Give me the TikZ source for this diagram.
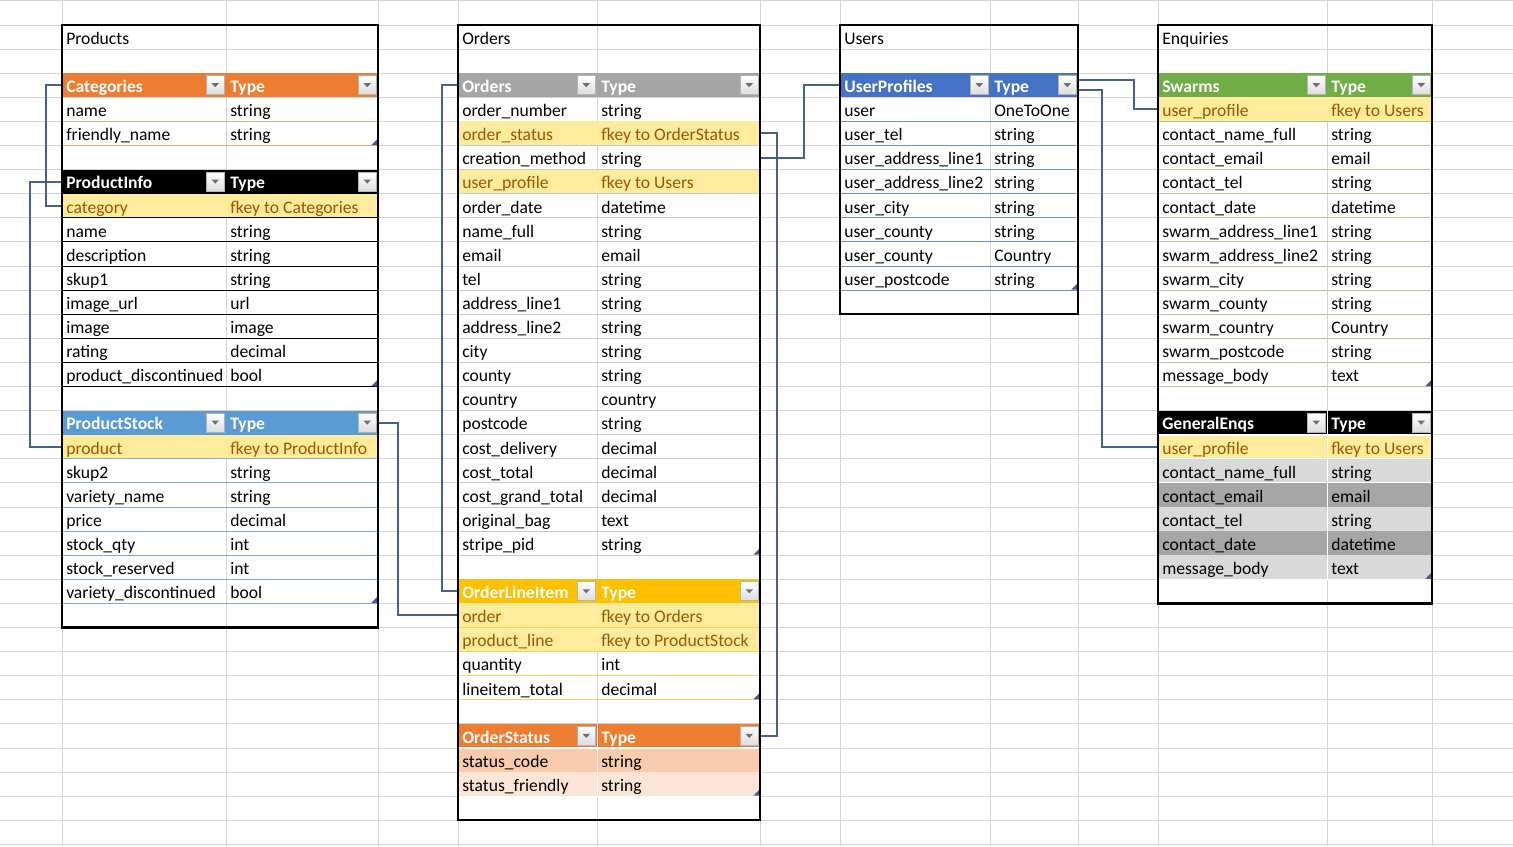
\documentclass[tikz,border=0pt]{standalone}
\usepackage{fontspec}
\setmainfont{Carlito}

% sheet colours
\definecolor{grid}{HTML}{D4D4D4}
\definecolor{hl}{HTML}{FFEB9C}
\definecolor{hltext}{HTML}{9C5700}
\definecolor{conncol}{HTML}{44628C}
\definecolor{resizecol}{HTML}{4A55A8}
\definecolor{btnedge}{HTML}{B4B4B4}
\definecolor{btnlow}{HTML}{DCDCDC}
\definecolor{arrowgray}{HTML}{6E6E6E}
% table colours
\definecolor{accOrange}{HTML}{ED7D31}
\definecolor{catline}{HTML}{F2A772}
\definecolor{psHead}{HTML}{5B9BD5}
\definecolor{psline}{HTML}{7FAEDD}
\definecolor{ordHead}{HTML}{A5A5A5}
\definecolor{ordline}{HTML}{C9C9C9}
\definecolor{oliHead}{HTML}{FFC000}
\definecolor{oliline}{HTML}{FFD34D}
\definecolor{upHead}{HTML}{4472C4}
\definecolor{upline}{HTML}{6C8ED0}
\definecolor{swHead}{HTML}{70AD47}
\definecolor{swline}{HTML}{A9D08E}
\definecolor{osRowA}{HTML}{F8CBAD}
\definecolor{osRowB}{HTML}{FCE4D6}
\definecolor{geLight}{HTML}{D9D9D9}
\definecolor{geDark}{HTML}{A6A6A6}

\tikzset{
  cell/.style={anchor=west, inner xsep=3pt, inner ysep=0pt, minimum height=18.075pt,
    text height=10.9pt, text depth=0pt, font=\fontsize{13.2}{15}\selectfont},
  headcell/.style={cell, text=white, font=\fontsize{13.2}{15}\selectfont\bfseries},
  gridline/.style={draw=grid, line width=0.75pt},
  rule/.style={line width=0.75pt},
  frame/.style={draw=black, line width=1.7pt},
  btn/.style={draw=btnedge, line width=0.6pt, top color=white, bottom color=btnlow},
  btnarrow/.style={fill=arrowgray},
  conn/.style={draw=conncol, line width=1.5pt},
}

% dropdown button at the right end of a header cell: #1 cell right x, #2 row top y
\newcommand{\dropbtn}[2]{%
  \draw[btn] (#1-19.5,#2+2.5) rectangle (#1-2,#2+21.5);
  \fill[btnarrow] (#1-14.5,#2+10) -- (#1-7,#2+10) -- (#1-10.75,#2+14) -- cycle;
}

% sheet title: #1 name, #2 left, #3 mid, #4 text
\newcommand{\ttitle}[4]{%
  \pgfmathsetmacro\wa{(#3-#2-8)*0.75}%
  \node[cell] (#1) at (#2,37.05) {\makebox[\wa pt][l]{#4}};
}

% table header: #1 id, #2 left, #3 mid, #4 right, #5 row, #6 fill, #7 title
\newcommand{\thead}[7]{%
  \pgfmathsetmacro\yt{25+24.1*(#5)}%
  \pgfmathsetmacro\yb{\yt+24.1}%
  \pgfmathsetmacro\ym{\yt+12.05}%
  \pgfmathsetmacro\wa{(#3-#2-8)*0.75}%
  \pgfmathsetmacro\wb{(#4-#3-8)*0.75}%
  \fill[#6] (#2,\yt) rectangle (#4,\yb);
  \node[headcell] (#1-h) at (#2,\ym) {\makebox[\wa pt][l]{#7}};
  \node[headcell] (#1-ht) at (#3,\ym) {\makebox[\wb pt][l]{Type}};
  \dropbtn{#3}{\yt}\dropbtn{#4}{\yt}%
}

% table row: #1 name, #2 left, #3 mid, #4 right, #5 row, #6 field, #7 type, #8 fill, #9 text colour
\newcommand{\trow}[9]{%
  \pgfmathsetmacro\yt{25+24.1*(#5)}%
  \pgfmathsetmacro\yb{\yt+24.1}%
  \pgfmathsetmacro\ym{\yt+12.05}%
  \pgfmathsetmacro\wa{(#3-#2-8)*0.75}%
  \pgfmathsetmacro\wb{(#4-#3-8)*0.75}%
  \path[fill=#8] (#2,\yt) rectangle (#4,\yb);
  \draw[rule, draw=\rowrule] (#2,\yb) -- (#4,\yb);
  \draw[rule, draw=\colrule] (#3,\yt) -- (#3,\yb);
  \node[cell, text=#9] (#1) at (#2,\ym) {\makebox[\wa pt][l]{#6}};
  \node[cell, text=#9] (#1t) at (#3,\ym) {\makebox[\wb pt][l]{#7}};
}

% rows of a light table: field/type/kind, kind h = foreign key highlight
\newcommand{\tbody}[6]{%
  \foreach \fld/\typ/\knd [count=\i] in {#6}{%
    \if h\knd \trow{#1-\i}{#2}{#3}{#4}{#5+\i}{\fld}{\typ}{hl}{hltext}%
    \else \trow{#1-\i}{#2}{#3}{#4}{#5+\i}{\fld}{\typ}{none}{black}\fi}%
}

% table resize handle under the last row: #1 right x, #2 row
\newcommand{\rmark}[2]{%
  \pgfmathsetmacro\yb{25+24.1*(#2+1)}%
  \fill[resizecol] (#1-1.2,\yb-6) -- (#1-1.2,\yb-0.5) -- (#1-6.7,\yb-0.5) -- cycle;
}

\begin{document}
\begin{tikzpicture}[x=0.75pt, y=-0.75pt]
\useasboundingbox (0,0) rectangle (1513,846);
\fill[white] (0,0) rectangle (1513,846);

% worksheet grid
\foreach \k in {-1,...,34} \draw[gridline] (0,{25+24.1*\k}) -- (1513,{25+24.1*\k});
\foreach \gx in {62,226,378,458,597,760,840,990,1078,1158,1327,1432} \draw[gridline] (\gx,0) -- (\gx,846);

% ---------------- Products ----------------
\ttitle{ttl-prod}{62}{226}{Products}
\def\rowrule{catline}\def\colrule{none}
\thead{cat}{62}{226}{378}{2}{accOrange}{Categories}
\tbody{cat}{62}{226}{378}{2}{name/string/n,friendly\_name/string/n}
\rmark{378}{4}

\def\rowrule{black}
\thead{pi}{62}{226}{378}{6}{black}{ProductInfo}
\tbody{pi}{62}{226}{378}{6}{category/fkey to Categories/h,name/string/n,description/string/n,skup1/string/n,image\_url/url/n,image/image/n,rating/decimal/n,product\_discontinued/bool/n}
\rmark{378}{14}

\def\rowrule{psline}
\thead{ps}{62}{226}{378}{16}{psHead}{ProductStock}
\tbody{ps}{62}{226}{378}{16}{product/fkey to ProductInfo/h,skup2/string/n,variety\_name/string/n,price/decimal/n,stock\_qty/int/n,stock\_reserved/int/n,variety\_discontinued/bool/n}
\rmark{378}{23}

% ---------------- Orders ----------------
\ttitle{ttl-ord}{458}{597}{Orders}
\def\rowrule{ordline}
\thead{ord}{458}{597}{760}{2}{ordHead}{Orders}
\tbody{ord}{458}{597}{760}{2}{order\_number/string/n,order\_status/fkey to OrderStatus/h,creation\_method/string/n,user\_profile/fkey to Users/h,order\_date/datetime/n,name\_full/string/n,email/email/n,tel/string/n,address\_line1/string/n,address\_line2/string/n,city/string/n,county/string/n,country/country/n,postcode/string/n,cost\_delivery/decimal/n,cost\_total/decimal/n,cost\_grand\_total/decimal/n,original\_bag/text/n,stripe\_pid/string/n}
\rmark{760}{21}

\def\rowrule{oliline}
\thead{oli}{458}{597}{760}{23}{oliHead}{OrderLineItem}
\tbody{oli}{458}{597}{760}{23}{order/fkey to Orders/h,product\_line/fkey to ProductStock/h,quantity/int/n,lineitem\_total/decimal/n}
\rmark{760}{27}

\def\rowrule{white}\def\colrule{white}
\thead{os}{458}{597}{760}{29}{accOrange}{OrderStatus}
\draw[rule, white] (597,{25+24.1*29}) -- (597,{25+24.1*30});
\trow{os-1}{458}{597}{760}{30}{status\_code}{string}{osRowA}{black}
\trow{os-2}{458}{597}{760}{31}{status\_friendly}{string}{osRowB}{black}
\draw[white, line width=1.5pt] (458,{25+24.1*30}) -- (760,{25+24.1*30});
\rmark{760}{31}

% ---------------- Users ----------------
\ttitle{ttl-usr}{840}{990}{Users}
\def\rowrule{upline}\def\colrule{none}
\thead{up}{840}{990}{1078}{2}{upHead}{UserProfiles}
\tbody{up}{840}{990}{1078}{2}{user/OneToOne/n,user\_tel/string/n,user\_address\_line1/string/n,user\_address\_line2/string/n,user\_city/string/n,user\_county/string/n,user\_county/Country/n,user\_postcode/string/n}
\rmark{1078}{10}

% ---------------- Enquiries ----------------
\ttitle{ttl-enq}{1158}{1327}{Enquiries}
\def\rowrule{swline}
\thead{sw}{1158}{1327}{1432}{2}{swHead}{Swarms}
\tbody{sw}{1158}{1327}{1432}{2}{user\_profile/fkey to Users/h,contact\_name\_full/string/n,contact\_email/email/n,contact\_tel/string/n,contact\_date/datetime/n,swarm\_address\_line1/string/n,swarm\_address\_line2/string/n,swarm\_city/string/n,swarm\_county/string/n,swarm\_country/Country/n,swarm\_postcode/string/n,message\_body/text/n}
\rmark{1432}{14}

\def\rowrule{white}\def\colrule{white}
\thead{ge}{1158}{1327}{1432}{16}{black}{GeneralEnqs}
\draw[rule, white] (1327,{25+24.1*16}) -- (1327,{25+24.1*17});
\trow{ge-1}{1158}{1327}{1432}{17}{user\_profile}{fkey to Users}{hl}{hltext}
\trow{ge-2}{1158}{1327}{1432}{18}{contact\_name\_full}{string}{geLight}{black}
\trow{ge-3}{1158}{1327}{1432}{19}{contact\_email}{email}{geDark}{black}
\trow{ge-4}{1158}{1327}{1432}{20}{contact\_tel}{string}{geLight}{black}
\trow{ge-5}{1158}{1327}{1432}{21}{contact\_date}{datetime}{geDark}{black}
\trow{ge-6}{1158}{1327}{1432}{22}{message\_body}{text}{geLight}{black}
\draw[white, line width=1.5pt] (1158,{25+24.1*17}) -- (1432,{25+24.1*17});
\rmark{1432}{22}

% ---------------- relations ----------------
\draw[conn] (cat-h.west) -- ++(-16,0) |- (pi-1.west);
\draw[conn] (pi-h.west) -- ++(-32,0) |- (ps-1.west);
\draw[conn] (ps-ht.east) -- ++(19,0) |- (oli-1.west);
\draw[conn] (ord-h.west) -- ++(-16,0) |- (oli-h.west);
\draw[conn] (ord-2t.east) -- ++(16,0) |- (os-ht.east);
\draw[conn] (ord-3t.east) -- ++(43,0) |- (up-h.west);
\draw[conn] ([yshift=3.75pt]up-ht.east) -- ++(55,0) |- (sw-1.west);
\draw[conn] ([yshift=-3.75pt]up-ht.east) -- ++(23,0) |- (ge-1.west);

% sheet frames
\draw[frame] (62,25) rectangle (378,{25+24.1*25});
\draw[frame] (458,25) rectangle (760,{25+24.1*33});
\draw[frame] (840,25) rectangle (1078,{25+24.1*12});
\draw[frame] (1158,25) rectangle (1432,{25+24.1*24});
\end{tikzpicture}
\end{document}
